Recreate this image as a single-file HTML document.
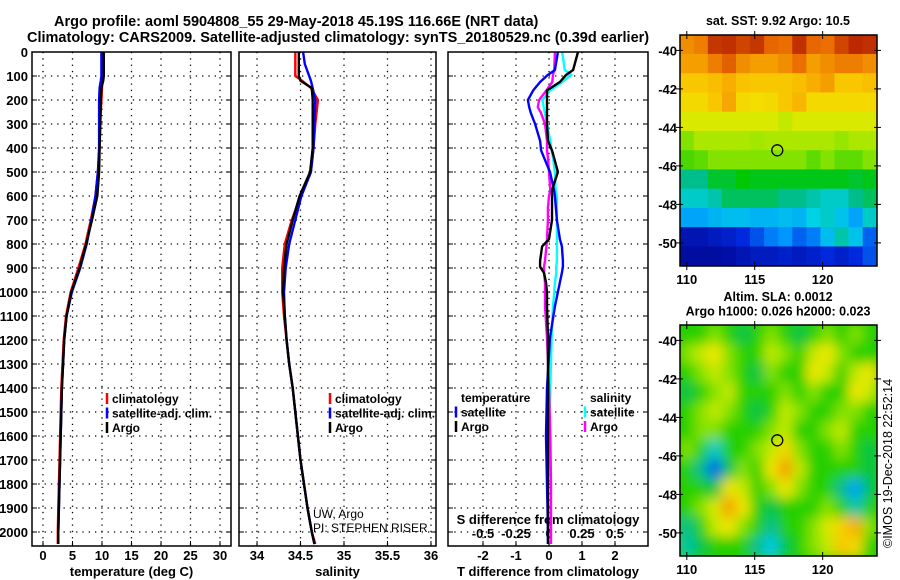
<!DOCTYPE html>
<html><head><meta charset="utf-8"><style>
body{margin:0;background:#fff;}
svg{display:block;font-family:"Liberation Sans",sans-serif;}
.b{font-weight:bold;font-size:13px;}
</style></head><body>
<svg id="s" width="900" height="580" viewBox="0 0 900 580">
<defs>
<clipPath id="c1"><rect x="680" y="35" width="197" height="231"/></clipPath>
<clipPath id="c2"><rect x="680" y="325" width="197" height="231"/></clipPath>
<filter id="bl" x="-10%" y="-10%" width="120%" height="120%"><feGaussianBlur stdDeviation="6"/></filter>
</defs>
<text class="b" x="54" y="26" style="font-size:14.5px">Argo profile: aoml 5904808_55 29-May-2018 45.19S 116.66E (NRT data)</text>
<text class="b" x="27" y="42" style="font-size:14.5px">Climatology: CARS2009. Satellite-adjusted climatology: synTS_20180529.nc (0.39d earlier)</text>
<g id="g"></g>
</svg>
<script>
// ---- profile data ----
const depths = [0,50,100,120,150,200,300,400,500,600,700,800,900,1000,1100,1200,1300,1400,1500,1600,1700,1800,1900,2000,2050];
const tempArgo = [10.3,10.3,10.3,10.2,9.9,9.8,9.7,9.6,9.5,9.2,8.3,7.3,6.2,4.8,4.0,3.6,3.4,3.2,3.1,3.0,2.9,2.8,2.7,2.6,2.6];
const tempClim = [10.0,10.0,10.0,10.0,10.0,9.9,9.7,9.6,9.3,8.9,8.1,7.2,6.0,4.7,3.9,3.5,3.3,3.1,3.0,2.9,2.8,2.7,2.6,2.5,2.5];
const tempSat = [9.9,9.9,9.9,9.8,9.6,9.5,9.5,9.5,9.3,8.9,8.2,7.4,6.3,4.9,4.0,3.6,3.4,3.2,3.1,3.0,2.9,2.8,2.7,2.6,2.6];
const salArgo = [34.48,34.48,34.48,34.5,34.63,34.64,34.64,34.64,34.61,34.49,34.41,34.34,34.31,34.30,34.32,34.34,34.37,34.41,34.44,34.47,34.5,34.54,34.58,34.63,34.66];
const salClim = [34.44,34.44,34.44,34.52,34.62,34.70,34.67,34.65,34.62,34.5,34.4,34.32,34.29,34.29,34.31,34.34,34.37,34.41,34.44,34.47,34.5,34.54,34.58,34.63,34.67];
const salSat = [34.53,34.55,34.6,34.62,34.64,34.67,34.66,34.65,34.62,34.51,34.44,34.37,34.33,34.31,34.32,34.34,34.37,34.41,34.44,34.47,34.5,34.54,34.58,34.63,34.66];
// ---- difference data ----
const diffDepths = [0,75,95,125,160,200,230,255,300,370,410,440,500,575,600,650,700,780,810,870,895,920,960,1000,1060,1190,1400,1600,1800,2000,2050];
const dTArgo = [.88,.73,.52,.33,-.06,-.06,-.06,-.06,-.06,-.03,.09,.15,.27,.09,.09,.09,.09,0,-.21,-.27,-.27,-.15,-.09,-.06,-.06,-.03,-.03,-.03,-.03,-.03,-.03];
const dTSat = [.27,.18,-.03,-.27,-.48,-.64,-.6,-.55,-.42,-.27,-.24,-.15,.03,.15,.18,.21,.24,.33,.39,.42,.42,.39,.33,.27,.18,.03,-.06,-.09,-.06,-.03,-.03];
const dSSat = [.1,.12,.17,.1,.01,-.05,-.04,-.03,-.015,.01,.02,.03,.045,.05,.06,.06,.06,.06,.06,.06,.055,.055,.045,.04,.03,.02,.01,0,-.008,-.008,-.008];
const dSArgo = [.045,.04,.03,.025,-.02,-.075,-.085,-.06,-.03,-.015,-.015,-.008,0,.01,0,-.008,-.008,-.015,-.02,-.03,-.038,-.038,-.03,-.03,-.03,-.015,0,.01,.015,.015,.015];
const depthTicks = [0,100,200,300,400,500,600,700,800,900,1000,1100,1200,1300,1400,1500,1600,1700,1800,1900,2000];
const tTicks = [0,5,10,15,20,25,30];
const sTicks = [34,34.5,35,35.5,36];
const dTTicks = [-2,-1,0,1,2];
const dSTicks = [-0.5,-0.25,0,0.25,0.5];
// ---- map data (normalized 0..1 colour index), rows from -39.2S southwards, 1 deg cells ----
const sstGrid = [
[.8,.82,.92,.93,.9,.92,.85,.84,.93,.85,.84,.9,.94,.93],
[.78,.78,.82,.86,.8,.78,.78,.8,.84,.78,.8,.82,.82,.8],
[.72,.72,.74,.76,.73,.72,.72,.72,.74,.76,.78,.72,.72,.74],
[.68,.68,.72,.77,.68,.67,.68,.72,.75,.68,.68,.68,.68,.68],
[.62,.62,.62,.62,.62,.62,.62,.6,.62,.62,.62,.62,.62,.62],
[.55,.58,.58,.58,.58,.57,.58,.58,.58,.58,.58,.56,.58,.58],
[.52,.53,.55,.55,.55,.55,.55,.55,.55,.53,.55,.53,.53,.55],
[.42,.42,.46,.46,.48,.47,.47,.47,.47,.47,.47,.47,.46,.47],
[.38,.38,.4,.44,.44,.44,.44,.42,.42,.4,.38,.38,.42,.44],
[.3,.3,.32,.33,.33,.32,.32,.33,.32,.36,.38,.34,.3,.38],
[.08,.08,.1,.12,.15,.2,.25,.28,.22,.25,.33,.4,.34,.22],
[.05,.05,.05,.06,.08,.1,.1,.12,.1,.12,.15,.12,.15,.2]];
const slaGrid = [
[.5,.5,.55,.5,.45,.5,.55,.5,.45,.5,.55,.5,.55,.5],
[.55,.6,.65,.55,.5,.5,.6,.55,.5,.6,.65,.55,.5,.5],
[.5,.55,.6,.55,.5,.45,.55,.5,.5,.65,.6,.5,.6,.65],
[.45,.5,.55,.6,.5,.5,.5,.55,.5,.55,.5,.5,.65,.6],
[.5,.55,.6,.55,.5,.45,.5,.6,.55,.5,.5,.55,.55,.5],
[.5,.55,.55,.5,.5,.5,.55,.6,.5,.5,.55,.6,.5,.5],
[.55,.5,.38,.5,.5,.55,.6,.68,.55,.5,.5,.55,.5,.45],
[.5,.42,.22,.45,.55,.5,.65,.78,.6,.5,.5,.5,.5,.45],
[.5,.5,.45,.66,.6,.5,.55,.65,.55,.5,.5,.42,.3,.45],
[.5,.55,.62,.78,.65,.5,.45,.5,.5,.5,.55,.5,.4,.5],
[.42,.5,.6,.65,.55,.5,.42,.5,.5,.55,.62,.7,.76,.55],
[.4,.45,.5,.5,.5,.42,.35,.45,.5,.55,.6,.72,.68,.5]];
const latTicks = [-40,-42,-44,-46,-48,-50];
const lonTicks = [110,115,120];
const argoLon = 116.66, argoLat = -45.19;

const NS='http://www.w3.org/2000/svg';
const G=document.getElementById('g');
function el(t,a,p){const e=document.createElementNS(NS,t);for(const k in a)e.setAttribute(k,a[k]);(p||G).appendChild(e);return e;}
function txt(x,y,s,a,p){const e=el('text',Object.assign({x:x,y:y},a||{}),p);e.textContent=s;return e;}

const top0=52, pxPerM=0.24, bot=546;
const yD=d=>top0+d*pxPerM;
const panels=[
 {l:32,r:231,name:'temperature-panel',xf:v=>43+v*5.9,ticks:tTicks,lab:'temperature (deg C)'},
 {l:239,r:436,name:'salinity-panel',xf:v=>257+(v-34)*87,ticks:sTicks,lab:'salinity'},
 {l:448,r:648,name:'difference-panel',xf:v=>549+v*33,ticks:dTTicks,lab:'T difference from climatology'}];
const xS=v=>549+v*132;

panels.forEach((P,i)=>{
 const g=el('g',{});
 
 
 depthTicks.forEach(d=>{const y=yD(d);
  if(d>0) el('line',{x1:P.l,x2:P.r,y1:y,y2:y,stroke:'#000','stroke-width':1.3,'stroke-dasharray':'1.3 5'},g);
  el('line',{x1:P.l,x2:P.l+5,y1:y,y2:y,stroke:'#000'},g);
  el('line',{x1:P.r-5,x2:P.r,y1:y,y2:y,stroke:'#000'},g);
  if(i==0){const t=txt(28,y+5,String(d),{class:'b','text-anchor':'end'});
   
   }
 });
 P.ticks.forEach(v=>{const x=P.xf(v);
  el('line',{x1:x,x2:x,y1:top0,y2:bot,stroke:'#000','stroke-width':1.3,'stroke-dasharray':'1.3 5'},g);
  el('line',{x1:x,x2:x,y1:bot-5,y2:bot,stroke:'#000'},g);
  const t=txt(x,560,String(v),{class:'b','text-anchor':'middle'});
  
  
 });
 const t=txt((P.l+P.r)/2,576,P.lab,{class:'b','text-anchor':'middle'});
 
 
});
dSTicks.forEach(v=>{const t=txt(xS(v),538,String(v),{class:'b','text-anchor':'middle'});
 
 });
const st=txt(548,524,'S difference from climatology',{class:'b','text-anchor':'middle'});



function line(vals,ds,xf,col,name,w){
 const pts=vals.map((v,k)=>xf(v).toFixed(1)+','+yD(ds[k]).toFixed(1)).join(' ');
 const e=el('polyline',{points:pts,fill:'none',stroke:col,'stroke-width':w||2.4,'stroke-linejoin':'round'});
 
 
}
line(tempClim,depths,panels[0].xf,'#f00','temp-climatology-line');
line(tempSat,depths,panels[0].xf,'#00f','temp-satellite-line');
line(tempArgo,depths,panels[0].xf,'#000','temp-argo-line');
line(salClim,depths,panels[1].xf,'#f00','sal-climatology-line');
line(salSat,depths,panels[1].xf,'#00f','sal-satellite-line');
line(salArgo,depths,panels[1].xf,'#000','sal-argo-line');
line(dSSat,diffDepths,xS,'#0ff','sdiff-satellite-line');
line(dSArgo,diffDepths,xS,'#f0f','sdiff-argo-line');
line(dTSat,diffDepths,panels[2].xf,'#00f','tdiff-satellite-line');
line(dTArgo,diffDepths,panels[2].xf,'#000','tdiff-argo-line');
el('rect',{x:30,y:bot+1,width:620,height:3,fill:'#fff'});
panels.forEach(P=>{
 const r=el('rect',{x:P.l,y:top0,width:P.r-P.l,height:bot-top0,fill:'none',stroke:'#000','stroke-width':1.5});
 
 
});

function legend(x,y,items){
 items.forEach((it,k)=>{
  const yy=y+k*14.5;
  if(it[1]){el('line',{x1:x,x2:x,y1:yy-10,y2:yy+1,stroke:it[1],'stroke-width':2.5});}
  const t=txt(x+5,yy,it[0],{class:'b',style:'font-size:12px'});
  
  
 });
}
legend(107,403,[['climatology','#f00'],['satellite-adj. clim.','#00f'],['Argo','#000']]);
legend(330,403,[['climatology','#f00'],['satellite-adj. clim.','#00f'],['Argo','#000']]);
legend(456,402,[['temperature',null],['satellite','#00f'],['Argo','#000']]);
legend(585,402,[['salinity',null],['satellite','#0ff'],['Argo','#f0f']]);
const i1=txt(313,518,'UW, Argo',{style:'font-size:12px'});


const i2=txt(313,532,'PI: STEPHEN RISER',{style:'font-size:12px'});



// ---- maps ----
const stops=[[0,[0,0,130]],[.15,[0,40,220]],[.28,[0,150,255]],[.36,[0,210,230]],[.42,[0,190,140]],[.48,[0,200,0]],[.56,[150,230,0]],[.64,[240,235,0]],[.74,[250,190,0]],[.84,[235,110,0]],[1,[160,0,0]]];
function cmap(v){for(let i=1;i<stops.length;i++){if(v<=stops[i][0]){const a=stops[i-1],b=stops[i],f=(v-a[0])/(b[0]-a[0]);return 'rgb('+a[1].map((c,j)=>Math.round(c+(b[1][j]-c)*f)).join(',')+')';}}return 'rgb(160,0,0)';}
function map(top,grid,clip,blur,name,title,titleY){
 const L=680,R=877,H=231;
 const lonX=l=>L+(l-109.5)*(R-L)/14.5, latY=la=>top+(-39.2-la)*H/12;
 const g=el('g',{'clip-path':'url(#'+clip+')'});
 
 
 const gi=el('g',blur?{filter:'url(#bl)'}:{},g);
 if(blur) el('rect',{x:L-20,y:top-20,width:240,height:270,fill:cmap(.5)},gi);
 grid.forEach((row,r)=>row.forEach((v,c)=>{
  const e=el('rect',{x:lonX(109.5+c*14.5/14)-0.3,y:latY(-39.2-r)-0.3,width:(R-L)/14+0.6,height:H/12+0.6,fill:cmap(v)},gi);
  
  
 }));
 el('rect',{x:L,y:top,width:R-L,height:H,fill:'none',stroke:'#000','stroke-width':1.5});
 lonTicks.forEach(l=>{const x=lonX(l);el('line',{x1:x,x2:x,y1:top-4,y2:top+4,stroke:'#000'});el('line',{x1:x,x2:x,y1:top+H-4,y2:top+H+4,stroke:'#000'});
  const t=txt(x,top+H+18,String(l),{class:'b','text-anchor':'middle'});
  
  });
 latTicks.forEach(la=>{const y=latY(la);el('line',{x1:L-4,x2:L+3,y1:y,y2:y,stroke:'#000'});el('line',{x1:R-3,x2:R+4,y1:y,y2:y,stroke:'#000'});
  const t=txt(L-3,y+5,String(la),{class:'b','text-anchor':'end'});
  
  });
 const c=el('circle',{cx:lonX(argoLon),cy:latY(argoLat),r:5.5,fill:'none',stroke:'#000','stroke-width':1.3});
 
 
 title.forEach((s,k)=>{const t=txt(778,titleY+k*14.5,s,{class:'b',style:'font-size:12.5px','text-anchor':'middle'});
  
  });
}
map(35,sstGrid,'c1',false,'sst-map',['sat. SST: 9.92 Argo: 10.5'],25);
map(325,slaGrid,'c2',true,'sla-map',['Altim. SLA: 0.0012','Argo h1000: 0.026 h2000: 0.023'],301);
const cp=txt(0,0,'©IMOS 19-Dec-2018 22:52:14',{style:'font-size:12.5px',transform:'translate(892,548) rotate(-90)'});


</script>
</body></html>
